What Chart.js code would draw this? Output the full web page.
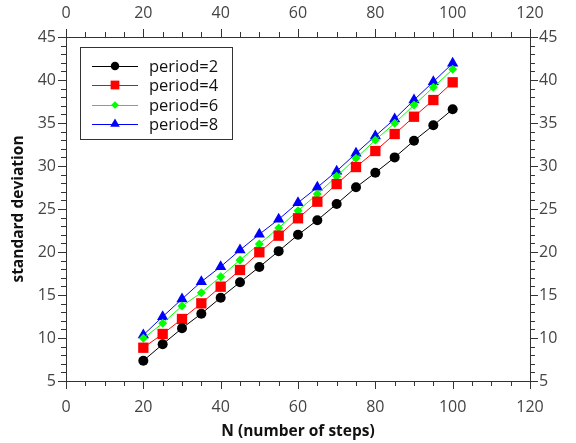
<!DOCTYPE html>
<html>
<head>
<meta charset="utf-8">
<script src="https://cdn.jsdelivr.net/npm/chart.js@4/dist/chart.umd.min.js"></script>
<style>
html,body{margin:0;padding:0;background:#fff;}
#wrap{width:576px;height:443px;}
</style>
</head>
<body>
<div id="wrap"><canvas id="c" width="576" height="443"></canvas></div>
<script>
const N = [20, 25, 30, 35, 40, 45, 50, 55, 60, 65, 70, 75, 80, 85, 90, 95, 100];
const period2 = [7.36, 9.27, 11.13, 12.83, 14.69, 16.48, 18.26, 20.1, 22.0, 23.7, 25.58, 27.52, 29.22, 31.0, 32.94, 34.73, 36.59];
const period4 = [8.87, 10.47, 12.21, 14.03, 15.97, 17.91, 19.97, 21.9, 23.92, 25.85, 27.9, 29.88, 31.74, 33.72, 35.73, 37.67, 39.73];
const period6 = [9.96, 11.71, 13.72, 15.27, 17.13, 19.07, 20.93, 22.8, 24.8, 26.74, 28.8, 30.9, 33.02, 34.97, 37.09, 39.15, 41.24];
const period8 = [10.35, 12.48, 14.53, 16.55, 18.29, 20.23, 22.06, 23.8, 25.73, 27.52, 29.4, 31.48, 33.49, 35.47, 37.67, 39.8, 41.94];
const seriesNames = ['period=2', 'period=4', 'period=6', 'period=8'];
const xTitle = 'N (number of steps)';
const yTitle = 'standard deviation';

const FONT = "'Open Sans', 'DejaVu Sans', sans-serif";
const styles = [
  {color: '#000000', pointStyle: 'circle', radius: 5},
  {color: '#ff0000', pointStyle: 'rect', radius: 7.3},
  {color: '#00ff00', pointStyle: 'rectRot', radius: 4.5},
  {color: '#0000ff', pointStyle: 'triangle', radius: 6.5}
];
const allSeries = [period2, period4, period6, period8];

function pts(arr) { return N.map((n, i) => ({x: n, y: arr[i]})); }

const datasets = allSeries.map((arr, i) => ({
  label: seriesNames[i],
  data: pts(arr),
  borderColor: styles[i].color,
  backgroundColor: styles[i].color,
  borderWidth: 1,
  pointStyle: styles[i].pointStyle,
  pointRadius: styles[i].radius,
  pointHoverRadius: styles[i].radius,
  pointBorderWidth: 0,
  xAxisID: 'x',
  yAxisID: 'y'
}));

const tickFont = {family: FONT, size: 16};
const tickColor = '#444';
const axisColor = '#333';

// outward tick marks: major longer, minor shorter
const tickPlugin = {
  id: 'ticksOut',
  afterDraw(chart) {
    const ctx = chart.ctx;
    const defs = [
      {id: 'x', major: 20, minor: 5, dir: 1},
      {id: 'x2', major: 20, minor: 5, dir: -1},
      {id: 'y', major: 5, minor: 1, dir: -1},
      {id: 'y2', major: 5, minor: 1, dir: 1}
    ];
    ctx.save();
    ctx.strokeStyle = axisColor;
    ctx.lineWidth = 1;
    defs.forEach(d => {
      const s = chart.scales[d.id];
      const horiz = s.isHorizontal();
      const base = horiz ? (d.dir > 0 ? chart.chartArea.bottom : chart.chartArea.top)
                         : (d.dir > 0 ? chart.chartArea.right : chart.chartArea.left);
      for (let v = s.min; v <= s.max + 1e-9; v += d.minor) {
        const isMajor = Math.abs(v / d.major - Math.round(v / d.major)) < 1e-9;
        const len = isMajor ? 8 : 5;
        const p = Math.round(s.getPixelForValue(v)) + 0.5;
        ctx.beginPath();
        if (horiz) {
          ctx.moveTo(p, base);
          ctx.lineTo(p, base + d.dir * len);
        } else {
          ctx.moveTo(base, p);
          ctx.lineTo(base + d.dir * len, p);
        }
        ctx.stroke();
      }
    });
    ctx.restore();
  }
};

function drawMarker(ctx, style, x, y, r, color) {
  ctx.fillStyle = color;
  ctx.beginPath();
  if (style === 'circle') {
    ctx.arc(x, y, r, 0, Math.PI * 2);
  } else if (style === 'rect') {
    const s = r * Math.SQRT1_2;
    ctx.rect(x - s, y - s, 2 * s, 2 * s);
  } else if (style === 'rectRot') {
    ctx.moveTo(x, y - r); ctx.lineTo(x + r, y); ctx.lineTo(x, y + r); ctx.lineTo(x - r, y); ctx.closePath();
  } else if (style === 'triangle') {
    ctx.moveTo(x, y - r);
    ctx.lineTo(x + r * Math.sin(2 * Math.PI / 3), y - r * Math.cos(2 * Math.PI / 3));
    ctx.lineTo(x + r * Math.sin(4 * Math.PI / 3), y - r * Math.cos(4 * Math.PI / 3));
    ctx.closePath();
  }
  ctx.fill();
}

const legendPlugin = {
  id: 'boxLegend',
  afterDraw(chart) {
    const ctx = chart.ctx;
    const a = chart.chartArea;
    const bx = a.left + 14, by = a.top + 10, bw = 152, bh = 92;
    ctx.save();
    ctx.fillStyle = '#fff';
    ctx.fillRect(bx, by, bw, bh);
    ctx.strokeStyle = '#333';
    ctx.lineWidth = 1;
    ctx.strokeRect(bx + 0.5, by + 0.5, bw, bh);
    chart.data.datasets.forEach((ds, i) => {
      const y = Math.round(by + 19 + 19.3 * i);
      const st = styles[i];
      ctx.strokeStyle = st.color;
      ctx.lineWidth = 1;
      ctx.beginPath();
      ctx.moveTo(bx + 12, y + 0.5);
      ctx.lineTo(bx + 58, y + 0.5);
      ctx.stroke();
      drawMarker(ctx, st.pointStyle, bx + 35, y, st.radius * 0.85, st.color);
      ctx.fillStyle = '#111';
      ctx.font = "16.5px " + FONT;
      ctx.textBaseline = 'middle';
      ctx.textAlign = 'left';
      ctx.fillText(ds.label, bx + 69, y + 1);
    });
    ctx.restore();
  }
};

new Chart(document.getElementById('c'), {
  type: 'line',
  data: {datasets},
  options: {
    responsive: false,
    animation: false,
    devicePixelRatio: 1,
    layout: {padding: 0},
    plugins: {legend: {display: false}, tooltip: {enabled: false}},
    scales: {
      x: {
        type: 'linear', position: 'bottom', min: 0, max: 120,
        ticks: {stepSize: 20, font: tickFont, color: tickColor, padding: 17, maxRotation: 0},
        grid: {display: false, drawTicks: false},
        border: {display: true, color: axisColor, width: 1},
        title: {display: true, text: xTitle, font: {family: FONT, size: 15.5, weight: 'bold'}, color: '#111', padding: {top: 0, bottom: 2}},
        afterFit: s => { s.height = 62; }
      },
      x2: {
        type: 'linear', position: 'top', min: 0, max: 120,
        ticks: {stepSize: 20, font: tickFont, color: tickColor, padding: 14, maxRotation: 0},
        grid: {display: false, drawTicks: false},
        border: {display: true, color: axisColor, width: 1},
        afterFit: s => { s.height = 37; }
      },
      y: {
        type: 'linear', position: 'left', min: 5, max: 45,
        ticks: {stepSize: 5, font: tickFont, color: tickColor, padding: 10},
        grid: {display: false, drawTicks: false},
        border: {display: true, color: axisColor, width: 1},
        title: {display: true, text: yTitle, font: {family: FONT, size: 15.5, weight: 'bold'}, color: '#111', padding: {top: 9, bottom: 0}},
        afterFit: s => { s.width = 66; }
      },
      y2: {
        type: 'linear', position: 'right', min: 5, max: 45,
        ticks: {stepSize: 5, font: tickFont, color: tickColor, padding: 9},
        grid: {display: false, drawTicks: false},
        border: {display: true, color: axisColor, width: 1},
        afterFit: s => { s.width = 46; }
      }
    }
  },
  plugins: [tickPlugin, legendPlugin]
});
</script>
</body>
</html>
